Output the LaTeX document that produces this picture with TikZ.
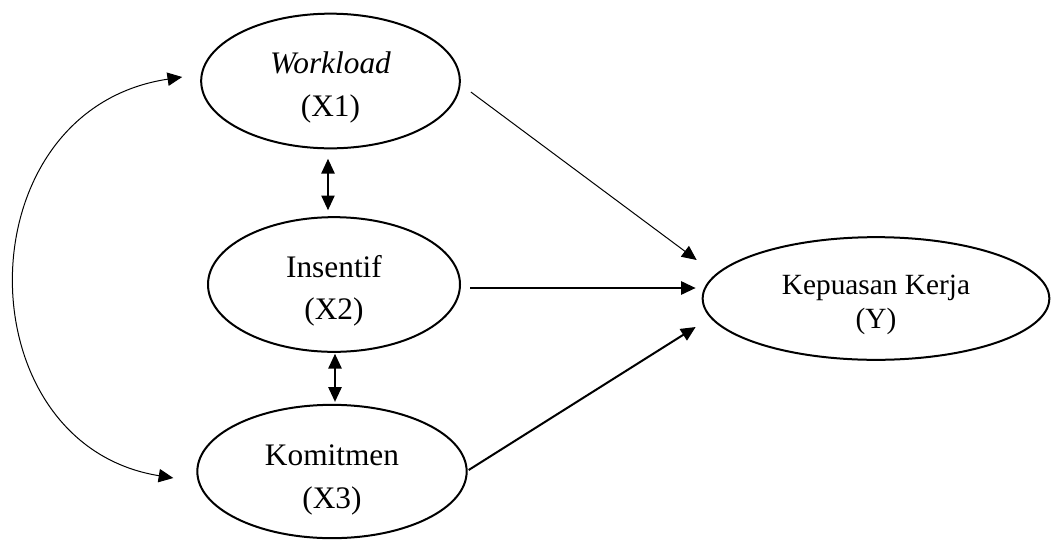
\documentclass[tikz,border=0pt]{standalone}
\usepackage{fontspec}
\setmainfont{Liberation Serif}
\usetikzlibrary{arrows.meta,shapes.geometric}
\newcommand\lift[1]{\rule{0pt}{#1}}

\begin{document}
\begin{tikzpicture}[x=0.75pt,y=0.75pt,yscale=-1,xscale=1,
  var/.style={draw,ellipse,line width=1.5pt,inner sep=0pt,align=center,font=\fontsize{23.5}{32}\selectfont},
  tip/.style={-{Triangle[length=11pt,width=10pt]}},
  both/.style={{Triangle[length=11pt,width=10pt]}-{Triangle[length=11pt,width=10pt]}}]
\useasboundingbox (0,0) rectangle (1051,540);

%Shape: Ellipse [Workload]
\node[var,minimum width=194pt,minimum height=101pt] (wl) at (330.5,81) {\lift{26pt}\textit{Workload}\\(X1)};
%Shape: Ellipse [Insentif]
\node[var,minimum width=189pt,minimum height=101pt] (ins) at (334,284.5) {\lift{26pt}Insentif\\(X2)};
%Shape: Ellipse [Komitmen]
\node[var,minimum width=202pt,minimum height=100pt] (km) at (332,471.5) {\lift{28pt}Komitmen\\(X3)};
%Shape: Ellipse [Kepuasan Kerja]
\node[var,minimum width=260pt,minimum height=92pt,font=\fontsize{22}{26}\selectfont] (kp) at (876,298.5) {\lift{24pt}Kepuasan Kerja\\(Y)};

%Curve Lines
\draw[both,line width=0.75pt] ([shift={(-18,-4)}]wl.west) .. controls (-38,110) and (-38,444) .. ([shift={(-23,6.5)}]km.west);

%Straight Lines
\draw[both,line width=1pt] ([shift={(-2.5,9.5)}]wl.south) -- ([shift={(-6,-6)}]ins.north);
\draw[both,line width=1pt] ([shift={(1,1)}]ins.south) -- ([shift={(3,-2)}]km.north);

\draw[tip,line width=0.75pt] ([shift={(10,11)}]wl.east) -- ([shift={(-5,-38.5)}]kp.west);
\draw[tip,line width=1.5pt] ([shift={(9,3.5)}]ins.east) -- ([shift={(-6,-10.5)}]kp.west);
\draw[tip,line width=1.5pt] ([shift={(1,-1.5)}]km.east) -- ([shift={(-6,28.5)}]kp.west);

\end{tikzpicture}
\end{document}
